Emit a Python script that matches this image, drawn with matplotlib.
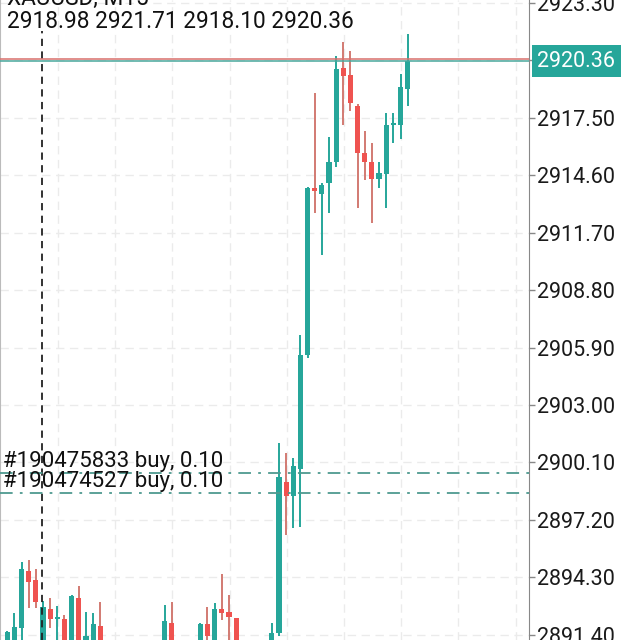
import matplotlib.pyplot as plt
from matplotlib.transforms import blended_transform_factory

plt.rcParams['font.family'] = ['Roboto', 'DejaVu Sans']

# M15 candles, oldest first (the ones around index 14-21 / 24-26 / 33-36 sit below the view)
opens = [2890.60, 2890.90, 2891.74, 2894.61, 2894.16, 2890.80, 2892.69, 2892.20, 2892.19, 2890.80,
         2893.25, 2890.90, 2890.90, 2891.84, 2890.50, 2890.10, 2890.40, 2890.00, 2889.50, 2889.90,
         2890.30, 2890.10, 2890.50, 2891.99, 2890.70, 2890.20, 2889.80, 2890.00, 2891.96, 2891.00,
         2892.69, 2892.54, 2892.24, 2890.80, 2890.30, 2890.60, 2890.40, 2890.70, 2891.48, 2899.11,
         2898.40, 2899.76, 2905.52, 2913.97, 2913.65, 2914.21, 2915.27, 2920.02, 2919.66, 2918.10,
         2915.72, 2915.27, 2914.41, 2914.66, 2917.15, 2917.14, 2918.98]
highs = [2891.60, 2892.49, 2895.07, 2895.17, 2894.71, 2893.10, 2893.25, 2892.85, 2892.39, 2893.40,
         2893.86, 2892.55, 2892.49, 2893.05, 2890.90, 2890.70, 2890.85, 2890.30, 2890.20, 2890.60,
         2890.80, 2890.70, 2892.90, 2893.05, 2891.00, 2890.60, 2890.40, 2892.00, 2892.79, 2893.00,
         2894.46, 2893.40, 2892.26, 2891.00, 2890.90, 2890.95, 2891.00, 2891.99, 2901.08, 2900.57,
         2900.32, 2906.53, 2914.00, 2918.75, 2914.21, 2916.53, 2920.62, 2921.33, 2920.88, 2918.20,
         2916.84, 2916.23, 2915.27, 2917.74, 2917.74, 2919.71, 2921.71]
lows = [2890.30, 2890.60, 2891.10, 2892.74, 2892.74, 2890.50, 2891.73, 2890.90, 2890.40, 2890.60,
        2890.30, 2890.70, 2890.50, 2890.20, 2889.80, 2889.60, 2889.90, 2889.20, 2889.10, 2889.70,
        2889.90, 2889.80, 2890.30, 2890.40, 2889.90, 2889.50, 2889.40, 2889.80, 2891.10, 2890.80,
        2892.14, 2890.70, 2890.40, 2890.00, 2889.90, 2890.10, 2890.00, 2890.50, 2891.35, 2896.43,
        2896.78, 2896.84, 2905.37, 2912.69, 2910.57, 2912.69, 2915.02, 2917.14, 2917.85, 2912.95,
        2914.36, 2912.19, 2913.96, 2912.95, 2916.23, 2916.43, 2918.10]
closes = [2891.53, 2891.78, 2894.71, 2894.06, 2893.05, 2892.79, 2892.19, 2892.26, 2890.70, 2893.35,
          2890.60, 2891.35, 2891.94, 2890.50, 2890.10, 2890.40, 2890.00, 2889.50, 2889.90, 2890.30,
          2890.10, 2890.50, 2892.09, 2890.70, 2890.20, 2889.80, 2890.00, 2891.96, 2891.33, 2892.69,
          2892.49, 2892.29, 2890.80, 2890.30, 2890.60, 2890.40, 2890.70, 2891.48, 2899.36, 2898.40,
          2899.92, 2905.52, 2913.96, 2913.81, 2914.11, 2915.27, 2919.97, 2919.61, 2918.25, 2915.72,
          2915.27, 2914.41, 2914.71, 2917.14, 2917.25, 2919.06, 2920.36]

price_ticks = [2891.40, 2894.30, 2897.20, 2900.10, 2903.00, 2905.90, 2908.80, 2911.70,
               2914.60, 2917.50, 2920.40, 2923.30]
tick_labels = ["2891.40", "2894.30", "2897.20", "2900.10", "2903.00", "2905.90", "2908.80",
               "2911.70", "2914.60", "2917.50", "", "2923.30"]

bid = 2920.36
ask = 2920.48
orders = [2899.56, 2898.55]
order_labels = ["#190475833 buy, 0.10", "#190474527 buy, 0.10"]
symbol = "XAUUSD, M15"
ohlc_text = "2918.98 2921.71 2918.10 2920.36"

up_col = "#26a69a"
down_col = "#ef5350"
down_wick = "#d27a72"

fig = plt.figure(figsize=(6.4, 6.4), dpi=100)
ax = fig.add_axes([0, 0, 529 / 640, 1])

for x in [7.1 + 8 * j for j in range(10)]:
    ax.axvline(x, color="#ebebeb", lw=1, ls=(0, (6, 4)), zorder=0)
for p in price_ticks:
    ax.axhline(p, color="#ebebeb", lw=1, ls=(0, (6, 4)), zorder=0)

for i in range(len(opens)):
    o, h, l, c = opens[i], highs[i], lows[i], closes[i]
    if c >= o:
        col = up_col
        wcol = up_col
    else:
        col = down_col
        wcol = down_wick
    ax.vlines(i, l, h, color=wcol, lw=1.4, zorder=2)
    bottom = min(o, c)
    height = max(abs(c - o), 0.08)
    ax.bar(i, height, bottom=bottom, width=0.72, color=col, zorder=3)

# day separator
ax.axvline(4.9, ymin=0, ymax=1 - 31 / 640, color="#222222", lw=1.3, ls=(0, (4, 3)), zorder=4)

# open positions
for p, lab in zip(orders, order_labels):
    ax.axhline(p, color="#4e9a90", lw=1.3, ls=(0, (7, 4, 1.5, 4)), zorder=4)
    ax.text(-0.6, p + 0.3, lab, fontsize=16, color="#111111", va="baseline", ha="left", zorder=5)

# ask / bid lines
ax.axhline(ask, color="#d9706c", lw=1.1, zorder=4)
ax.axhline(bid, color="#4aa89d", lw=1.1, zorder=4)

ax.set_xlim(-1.02, 72.97)
ax.set_ylim(2891.13, 2923.45)

ax.yaxis.tick_right()
ax.set_yticks(price_ticks)
ax.set_yticklabels(tick_labels)
ax.tick_params(axis="y", length=4, width=1, color="#888888", labelsize=15.5,
               labelcolor="#1a1a1a", pad=2)
ax.set_xticks([])
for side in ["top", "bottom"]:
    ax.spines[side].set_visible(False)
ax.spines["right"].set_color("#888888")
ax.spines["left"].set_color("#bbbbbb")

trans = blended_transform_factory(ax.transAxes, ax.transData)
ax.text(1.016, bid, "2920.36", transform=trans, fontsize=15.5, color="white",
        va="center", ha="left", clip_on=False, zorder=10,
        bbox=dict(boxstyle="square,pad=0.25", facecolor=up_col, edgecolor="none"))

fig.text(7 / 640, 1 - 5 / 640, symbol, fontsize=16.3, color="#111111", va="baseline")
fig.text(7 / 640, 1 - 28 / 640, ohlc_text, fontsize=16.3, color="#111111", va="baseline")

fig.savefig("out.png", dpi=100)
